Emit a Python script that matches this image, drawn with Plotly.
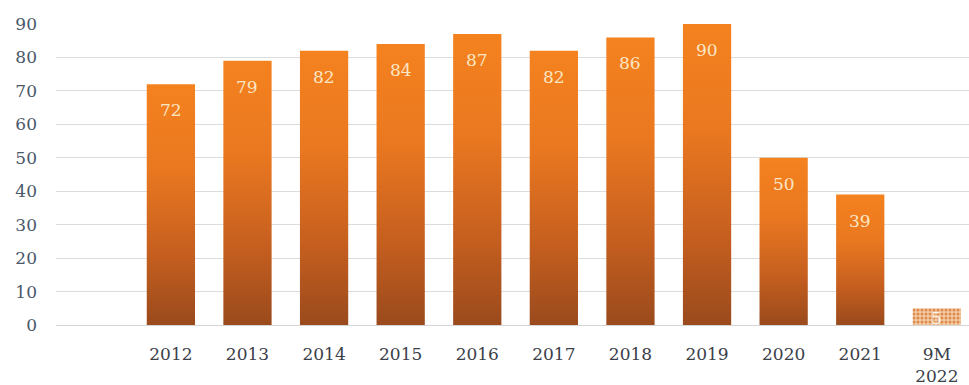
import plotly.graph_objects as go

# Annual values by period
periods = ["2012", "2013", "2014", "2015", "2016", "2017", "2018", "2019",
           "2020", "2021", "9M<br>2022"]
values = [72, 79, 82, 84, 87, 82, 86, 90, 50, 39, 5]
y_ticks = [0, 10, 20, 30, 40, 50, 60, 70, 80, 90]

BAR_W = 0.63
GRADIENT = [[0.0, "#9a4a1d"], [0.3, "#c65f1f"], [0.65, "#ea7820"], [1.0, "#f4821f"]]
LABEL_COLOR = "#fbe6c4"
FONT = "DejaVu Serif"

fig = go.Figure()

for i, v in enumerate(values):
    xs = [i - BAR_W / 2, i + BAR_W / 2, i + BAR_W / 2, i - BAR_W / 2, i - BAR_W / 2]
    ys = [0, 0, v, v, 0]
    partial = i == len(values) - 1
    if partial:
        # partial-year bar drawn with a dotted hatch
        fig.add_trace(go.Scatter(
            x=xs, y=ys, mode="lines", fill="toself",
            line=dict(width=0, color="#eab085"),
            fillpattern=dict(shape=".", bgcolor="#f4caa2", fgcolor="#dc8a4e",
                             size=4, solidity=0.45, fillmode="replace"),
            hoverinfo="skip", showlegend=False,
        ))
    else:
        fig.add_trace(go.Scatter(
            x=xs, y=ys, mode="lines", fill="toself",
            line=dict(width=0, color="#f08020"),
            fillgradient=dict(type="vertical", colorscale=GRADIENT, start=0, stop=v),
            hoverinfo="skip", showlegend=False,
        ))
    if v >= 10:
        fig.add_annotation(x=i, y=v, text=str(v), showarrow=False,
                           yanchor="top", yshift=-14,
                           font=dict(family=FONT, size=17, color=LABEL_COLOR))
    else:
        fig.add_annotation(x=i, y=v / 2, text=str(v), showarrow=False,
                           yanchor="middle", yshift=-1,
                           font=dict(family=FONT, size=17, color="#fff4e8"))

fig.update_xaxes(
    range=[-1.5, 10.42],
    tickmode="array", tickvals=list(range(len(periods))), ticktext=periods,
    showgrid=False, zeroline=False, showline=False, ticks="",
    tickfont=dict(family=FONT, size=17, color="#3b4049"),
    ticklabelstandoff=17,
)
fig.update_yaxes(
    range=[0, 90],
    tickmode="array", tickvals=y_ticks,
    showgrid=True, gridcolor="#dcdcdc", gridwidth=1,
    zeroline=True, zerolinecolor="#d4d4d4", zerolinewidth=1,
    showline=False, ticks="",
    tickfont=dict(family=FONT, size=17, color="#4a5868"),
    ticklabelstandoff=18,
)
fig.update_layout(
    width=969, height=385,
    margin=dict(l=56, r=0, t=24, b=60),
    paper_bgcolor="white", plot_bgcolor="white",
    showlegend=False,
)

fig.write_html("out.html")
